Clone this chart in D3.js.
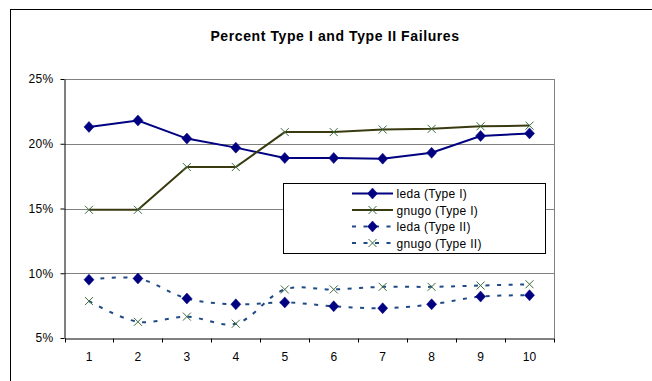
<!DOCTYPE html>
<html>
<head>
<meta charset="utf-8">
<script src="https://cdn.jsdelivr.net/npm/d3@7"></script>
<style>
  html, body { margin: 0; padding: 0; background: #fff; }
  svg { display: block; }
  text { font-family: "Liberation Sans", Arial, sans-serif; fill: #000; }
</style>
</head>
<body>
<svg id="chart" width="652" height="381"></svg>
<script>
// Trial numbers along the x axis
const categories = [1, 2, 3, 4, 5, 6, 7, 8, 9, 10];
// Failure rates, in percent
const ledaType1  = [21.3, 21.8, 20.4, 19.7, 18.9, 18.9, 18.85, 19.3, 20.6, 20.8];
const gnugoType1 = [14.9, 14.9, 18.2, 18.2, 20.9, 20.9, 21.1, 21.15, 21.35, 21.4];
const ledaType2  = [9.5, 9.6, 8.05, 7.6, 7.75, 7.45, 7.3, 7.6, 8.2, 8.3];
const gnugoType2 = [7.85, 6.25, 6.65, 6.1, 8.75, 8.75, 8.95, 8.95, 9.05, 9.15];
const yTicks = [5, 10, 15, 20, 25];
const seriesNames = ["leda (Type I)", "gnugo (Type I)", "leda (Type II)", "gnugo (Type II)"];

const series = [
  { name: seriesNames[0], values: ledaType1,  color: "#000080", dash: null,    marker: "diamond", smooth: false },
  { name: seriesNames[1], values: gnugoType1, color: "#3a3a10", dash: null,    marker: "x",       smooth: false },
  { name: seriesNames[2], values: ledaType2,  color: "#1f4a85", dash: "4,7.5", marker: "diamond", smooth: true },
  { name: seriesNames[3], values: gnugoType2, color: "#1f4a85", dash: "4,7.5", marker: "x",       smooth: true }
];

const svg = d3.select("#chart");

// Outer chart frame (extends past the right and bottom edges)
svg.append("rect")
  .attr("x", 10.5).attr("y", 9.5)
  .attr("width", 700).attr("height", 400)
  .attr("fill", "#fff").attr("stroke", "#000").attr("stroke-width", 1);

const plot = { left: 64.5, right: 554, top: 79, bottom: 338 };

const x = d3.scaleBand().domain(categories).range([plot.left, plot.right]).padding(0);
const y = d3.scaleLinear().domain([5, 25]).range([plot.bottom, plot.top]);
const cx = d => x(d) + x.bandwidth() / 2;

// Title
svg.append("text")
  .attr("x", 335).attr("y", 41)
  .attr("text-anchor", "middle")
  .style("font-size", "14px").style("font-weight", "bold")
  .style("letter-spacing", "0.6px")
  .text("Percent Type I and Type II Failures");

// Horizontal gridlines
svg.append("g").selectAll("line")
  .data(yTicks.filter(t => t > 5))
  .join("line")
  .attr("x1", plot.left).attr("x2", plot.right)
  .attr("y1", d => Math.round(y(d)) + 0.5).attr("y2", d => Math.round(y(d)) + 0.5)
  .attr("stroke", "#808080").attr("stroke-width", 1);

// Right plot border
svg.append("line")
  .attr("x1", plot.right + 0.5).attr("x2", plot.right + 0.5)
  .attr("y1", plot.top).attr("y2", plot.bottom)
  .attr("stroke", "#808080");

// Y axis
const yAxis = d3.axisLeft(y).tickValues(yTicks).tickFormat(d => d + "%").tickSize(4).tickSizeOuter(0);
const gy = svg.append("g").attr("transform", `translate(${plot.left},0)`).call(yAxis);
gy.select(".domain").attr("stroke", "#000");
gy.selectAll(".tick line").attr("stroke", "#000");
gy.selectAll(".tick text")
  .attr("x", -11)
  .style("font-family", "'Liberation Sans', Arial, sans-serif")
  .style("font-size", "12px").style("letter-spacing", "0.3px").attr("fill", "#000");

// X axis: labels centred in each band, ticks on band boundaries
const xAxis = d3.axisBottom(x).tickSize(0).tickSizeOuter(0);
const gx = svg.append("g").attr("transform", `translate(0,${plot.bottom + 0.5})`).call(xAxis);
gx.select(".domain").attr("stroke", "#000");
gx.selectAll(".tick text")
  .attr("y", 14)
  .style("font-family", "'Liberation Sans', Arial, sans-serif")
  .style("font-size", "12px").attr("fill", "#000");
const bounds = categories.map(c => x(c)).concat([x(categories[categories.length - 1]) + x.bandwidth()]);
gx.append("g").selectAll("line")
  .data(bounds)
  .join("line")
  .attr("x1", d => Math.round(d) + 0.5).attr("x2", d => Math.round(d) + 0.5)
  .attr("y1", 0).attr("y2", 4)
  .attr("stroke", "#000");

// Marker drawing
function drawMarker(g, type, px, py) {
  if (type === "diamond") {
    g.append("path")
      .attr("d", `M${px},${py - 5.5}L${px + 5},${py}L${px},${py + 5.5}L${px - 5},${py}Z`)
      .attr("fill", "#000080").attr("stroke", "#000080").attr("stroke-width", 0.5);
  } else {
    g.append("path")
      .attr("d", `M${px - 4},${py - 4}L${px + 4},${py + 4}M${px - 4},${py + 4}L${px + 4},${py - 4}`)
      .attr("fill", "none").attr("stroke", "#3d6b3d").attr("stroke-width", 1);
  }
}

// Series lines and markers
series.forEach(s => {
  const line = d3.line()
    .x((d, i) => cx(categories[i]))
    .y(d => y(d))
    .curve(s.smooth ? d3.curveCatmullRom.alpha(0.5) : d3.curveLinear);
  const g = svg.append("g");
  g.append("path")
    .datum(s.values)
    .attr("d", line)
    .attr("fill", "none")
    .attr("stroke", s.color)
    .attr("stroke-width", 2)
    .attr("stroke-dasharray", s.dash);
  s.values.forEach((v, i) => drawMarker(g, s.marker, cx(categories[i]), y(v)));
});

// Legend
const legend = svg.append("g");
legend.append("rect")
  .attr("x", 283.5).attr("y", 183.5)
  .attr("width", 262).attr("height", 70)
  .attr("fill", "#fff").attr("stroke", "#000").attr("stroke-width", 1);
const rowY = [193.5, 210, 226.5, 243];
series.forEach((s, i) => {
  const ly = rowY[i];
  legend.append("line")
    .attr("x1", 352).attr("x2", 393)
    .attr("y1", ly).attr("y2", ly)
    .attr("stroke", s.color).attr("stroke-width", 2)
    .attr("stroke-dasharray", s.dash ? "4,7.5" : null);
  drawMarker(legend, s.marker, 372.5, ly);
  legend.append("text")
    .attr("x", 396.5).attr("y", ly + 4.5)
    .style("font-size", "12px").style("letter-spacing", "0.3px")
    .text(s.name);
});
</script>
</body>
</html>
